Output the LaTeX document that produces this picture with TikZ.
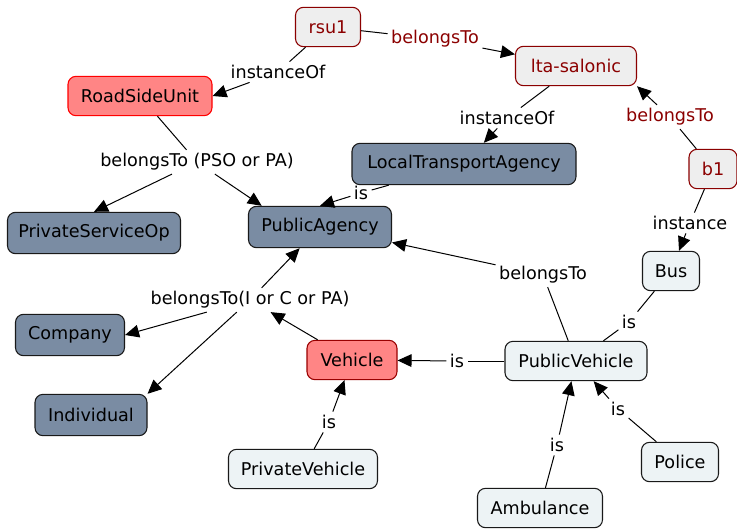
\documentclass[tikz,border=0pt]{standalone}
\usepackage{fontspec}
\setmainfont{DejaVu Sans}
\usetikzlibrary{arrows.meta,positioning}

\definecolor{salmon}{HTML}{FF8585}
\definecolor{slate}{HTML}{7A8CA3}
\definecolor{pale}{HTML}{EDF3F5}
\definecolor{instgray}{HTML}{EEEEEE}
\definecolor{darkred}{HTML}{8B0000}

\begin{document}
\begin{tikzpicture}[
		x=0.75pt, y=-0.75pt,
		font=\fontsize{13.2}{16}\selectfont,
		% Styles
		concept/.style={rectangle, rounded corners=6pt, draw=black!90, line width=0.8pt, minimum height=29.5pt, inner xsep=4pt},
		mainclass/.style={concept, fill=salmon},
		agent/.style={concept, fill=slate, minimum height=31pt},
		subclass/.style={concept, fill=pale},
		instbox/.style={concept, fill=instgray, draw=darkred, text=darkred},
		phrase/.style={inner sep=2.5pt},
		relphrase/.style={phrase, text=darkred},
		% Arrows
		link/.style={line width=0.75pt, black},
		arrow/.style={link, -{Triangle[length=10.5pt, width=9.5pt]}},
		]

		\useasboundingbox (0,0) rectangle (737,528);

		% Instances
		\node[instbox, minimum width=48.75pt] (rsu1) at (328,27) {rsu1};
		\node[instbox, minimum width=90.75pt] (lta) at (576,66) {lta-salonic};
		\node[instbox, minimum width=36pt] (b1) at (713,169) {b1};

		% Classes
		\node[mainclass, draw=red, minimum width=108pt] (rsuclass) at (140,96) {RoadSideUnit};
		\node[mainclass, draw=red!60!black, minimum width=67.5pt] (vehicle) at (352,360) {Vehicle};
		\node[agent, minimum width=168pt] (ltaclass) at (464,164) {LocalTransportAgency};
		\node[agent, minimum width=129.75pt] (pso) at (94,233) {PrivateServiceOp};
		\node[agent, minimum width=107.25pt] (pa) at (320,227) {PublicAgency};
		\node[agent, minimum width=81.75pt] (company) at (70,335) {Company};
		\node[agent, minimum width=84pt] (individual) at (91,415) {Individual};
		\node[subclass, minimum width=42.75pt] (bus) at (671,271) {Bus};
		\node[subclass, minimum width=106.5pt] (pubveh) at (576,361) {PublicVehicle};
		\node[subclass, minimum width=111.75pt] (privveh) at (303,469) {PrivateVehicle};
		\node[subclass, minimum width=57.75pt] (police) at (680,462) {Police};
		\node[subclass, minimum width=93.75pt] (ambulance) at (540,508) {Ambulance};

		% Linking phrases
		\node[phrase] (instof1) at (278,72) {instanceOf};
		\node[relphrase] (belto1) at (435,39) {belongsTo};
		\node[phrase] (instof2) at (507,118) {instanceOf};
		\node[relphrase] (belto2) at (670,117) {belongsTo};
		\node[phrase] (inst) at (690,223) {instance};
		\node[phrase] (beltopso) at (197,162) {belongsTo (PSO or PA)};
		\node[phrase] (is1) at (361,193) {is};
		\node[phrase] (beltoicpa) at (250,300) {belongsTo(I or C or PA)};
		\node[phrase] (belto3) at (543,275) {belongsTo};
		\node[phrase] (is2) at (457,361) {is};
		\node[phrase] (is3) at (629,322) {is};
		\node[phrase] (is4) at (618,409) {is};
		\node[phrase] (is5) at (557,445) {is};
		\node[phrase] (is6) at (329,422) {is};

		% Connections
		% rsu1
		\draw[link] (rsu1) -- (instof1);
		\draw[arrow] (instof1) -- (rsuclass.east);
		\draw[link] (rsu1) -- (belto1);
		\draw[arrow] (belto1) -- (lta);

		% lta-salonic and b1
		\draw[link] (lta) -- (instof2);
		\draw[arrow] (instof2) -- (ltaclass);
		\draw[link] (b1) -- (belto2);
		\draw[arrow] (belto2) -- (lta.south east);
		\draw[link] (b1) -- (inst);
		\draw[arrow] (inst) -- (bus);

		% Agencies
		\draw[link] (rsuclass) -- (beltopso);
		\draw[arrow] (beltopso) -- (pso.north);
		\draw[arrow] (beltopso) -- (pa.160);
		\draw[link] (ltaclass) -- (is1);
		\draw[arrow] (is1) -- (pa.north);

		% Vehicle ownership
		\draw[arrow] (vehicle) -- (beltoicpa);
		\draw[arrow] (beltoicpa) -- (pa);
		\draw[arrow] (beltoicpa) -- (company.east);
		\draw[arrow] (beltoicpa) -- (individual.north east);
		\draw[link] (pubveh) -- (belto3);
		\draw[arrow] (belto3) -- (pa);

		% Vehicle hierarchy
		\draw[link] (pubveh) -- (is2);
		\draw[arrow] (is2) -- (vehicle);
		\draw[link] (bus) -- (is3);
		\draw[link] (is3) -- (pubveh);
		\draw[link] (police) -- (is4);
		\draw[arrow] (is4) -- (pubveh);
		\draw[link] (ambulance) -- (is5);
		\draw[arrow] (is5) -- (pubveh);
		\draw[link] (privveh) -- (is6);
		\draw[arrow] (is6) -- (vehicle);

	\end{tikzpicture}
\end{document}
